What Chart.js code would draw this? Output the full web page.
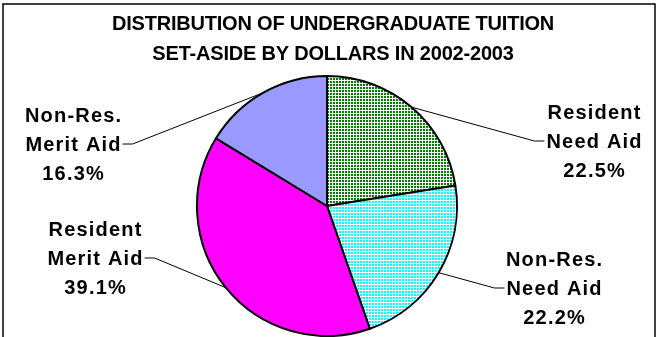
<!DOCTYPE html>
<html>
<head>
<meta charset="utf-8">
<script src="https://cdn.jsdelivr.net/npm/chart.js@4.4.0/dist/chart.umd.min.js"></script>
<style>
  html, body { margin: 0; padding: 0; background: #fff; }
  #wrap { width: 659px; height: 337px; position: relative; overflow: hidden; }
</style>
</head>
<body>
<div id="wrap"><canvas id="chart" width="659" height="337"></canvas></div>
<script>
const titleLines = ['DISTRIBUTION OF UNDERGRADUATE TUITION', 'SET-ASIDE BY DOLLARS IN 2002-2003'];
const categories = ['Resident Need Aid', 'Non-Res. Need Aid', 'Resident Merit Aid', 'Non-Res. Merit Aid'];
const labelLines = [['Resident', 'Need Aid'], ['Non-Res.', 'Need Aid'], ['Resident', 'Merit Aid'], ['Non-Res.', 'Merit Aid']];
const shares = [22.5, 22.2, 39.1, 16.3];

// small tiled fills: solid blocks separated by 1px white lines
function makePattern(base, line, size) {
  const c = document.createElement('canvas');
  c.width = c.height = size;
  const g = c.getContext('2d');
  g.fillStyle = line;
  g.fillRect(0, 0, size, size);
  g.fillStyle = base;
  g.fillRect(0, 0, size - 1, size - 1);
  return g.createPattern(c, 'repeat');
}

const canvas = document.getElementById('chart');
const ctx = canvas.getContext('2d');

const fills = [
  makePattern('#008000', '#ffffff', 3),
  makePattern('#00ffff', '#ffffff', 3),
  '#ff00ff',
  '#9999ff'
];

// where each text block sits: center x, baseline of first line, side of the pie
const labelSpots = [
  {x: 594, y: 119, side: 'right'},
  {x: 554, y: 266, side: 'right'},
  {x: 95, y: 236, side: 'left'},
  {x: 73, y: 122, side: 'left'}
];

const decorations = {
  id: 'decorations',
  afterDraw(chart) {
    const c = chart.ctx;
    c.save();

    // frame
    c.strokeStyle = '#000';
    c.lineWidth = 1.5;
    c.strokeRect(3, 4, 652, 400);

    // title
    c.fillStyle = '#000';
    c.font = 'bold 20px "Liberation Sans", Arial, sans-serif';
    c.textAlign = 'center';
    c.textBaseline = 'alphabetic';
    c.letterSpacing = '-0.2px';
    c.fillText(titleLines[0], 333, 30);
    c.fillText(titleLines[1], 333, 60);

    // slice labels with leader lines
    const meta = chart.getDatasetMeta(0);
    const spacing = 1.2;
    c.font = 'bold 20px "Liberation Sans", Arial, sans-serif';
    c.letterSpacing = spacing + 'px';
    const lh = 29;
    meta.data.forEach((arc, i) => {
      const spot = labelSpots[i];
      const lines = [labelLines[i][0], labelLines[i][1], shares[i].toFixed(1) + '%'];
      lines.forEach((t, k) => {
        c.fillText(t, spot.x + spacing / 2, spot.y + k * lh);
      });

      const w = c.measureText(lines[1]).width - spacing;
      const ly = spot.y + lh - 7;
      const dir = spot.side === 'right' ? -1 : 1;
      const x0 = spot.x + dir * (w / 2 + 2);
      const x1 = x0 + dir * 10;

      const p = arc.getProps(['x', 'y', 'startAngle', 'endAngle', 'outerRadius'], true);
      const mid = (p.startAngle + p.endAngle) / 2;
      const ex = p.x + Math.cos(mid) * p.outerRadius;
      const ey = p.y + Math.sin(mid) * p.outerRadius;

      c.strokeStyle = '#000';
      c.lineWidth = 1;
      c.beginPath();
      c.moveTo(x0, ly);
      c.lineTo(x1, ly);
      c.lineTo(ex, ey);
      c.stroke();
    });
    c.restore();
  }
};

new Chart(ctx, {
  type: 'pie',
  data: {
    labels: categories,
    datasets: [{
      data: shares,
      backgroundColor: fills,
      borderColor: '#000',
      borderWidth: 2
    }]
  },
  options: {
    responsive: false,
    animation: false,
    layout: {padding: {left: 196, right: 201, top: 75, bottom: 0}},
    plugins: {
      legend: {display: false},
      title: {display: false},
      tooltip: {enabled: false}
    }
  },
  plugins: [decorations]
});
</script>
</body>
</html>
